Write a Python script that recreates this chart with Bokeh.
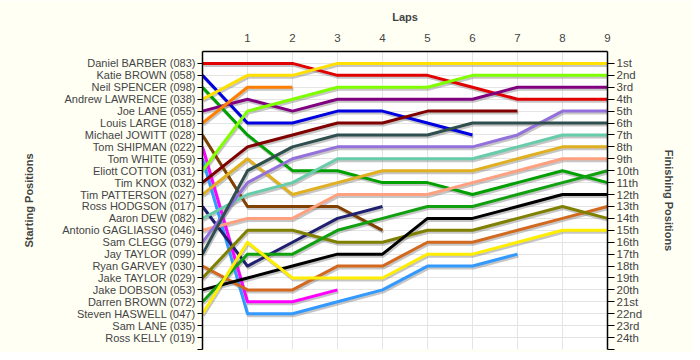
from bokeh.plotting import figure
from bokeh.models import LinearAxis, FixedTicker, Range1d
from bokeh.embed import file_html
from bokeh.resources import INLINE

# ---------------- data ----------------
laps = [0, 1, 2, 3, 4, 5, 6, 7, 8, 9]
lap_labels = ["", "1", "2", "3", "4", "5", "6", "7", "8", "9"]

drivers = [
    "Daniel BARBER (083)", "Katie BROWN (058)", "Neil SPENCER (098)",
    "Andrew LAWRENCE (038)", "Joe LANE (055)", "Louis LARGE (018)",
    "Michael JOWITT (028)", "Tom SHIPMAN (022)", "Tom WHITE (059)",
    "Eliott COTTON (031)", "Tim KNOX (032)", "Tim PATTERSON (027)",
    "Ross HODGSON (017)", "Aaron DEW (082)", "Antonio GAGLIASSO (046)",
    "Sam CLEGG (079)", "Jay TAYLOR (099)", "Ryan GARVEY (030)",
    "Jake TAYLOR (029)", "Jake DOBSON (053)", "Darren BROWN (072)",
    "Steven HASWELL (047)", "Sam LANE (035)", "Ross KELLY (019)",
]

finish_labels = ["1st", "2nd", "3rd", "4th", "5th", "6th", "7th", "8th",
                 "9th", "10th", "11th", "12th", "13th", "14th", "15th",
                 "16th", "17th", "18th", "19th", "20th", "21st", "22nd",
                 "23rd", "24th"]

# position of each driver after each lap (index 0 = start)
pos_barber    = [1, 1, 1, 2, 2, 2, 3, 4, 4, 4]
pos_kbrown    = [2, 6, 6, 5, 5, 6, 7]
pos_spencer   = [3, 7, 10, 10, 11, 11, 12, 11, 10, 11]
pos_lawrence  = [4, 2, 2, 1, 1, 1, 1, 1, 1, 1]
pos_jlane     = [5, 4, 5, 4, 4, 4, 4, 3, 3, 3]
pos_large     = [6, 3, 3]
pos_jowitt    = [7, 13, 13, 13, 15]
pos_shipman   = [8, 21, 21, 20]
pos_white     = [9, 22, 22, 21, 20, 18, 18, 17]
pos_cotton    = [10, 5, 4, 3, 3, 3, 2, 2, 2, 2]
pos_knox      = [11, 8, 7, 6, 6, 5, 5, 5]
pos_patterson = [12, 9, 12, 11, 10, 10, 10, 9, 8, 8]
pos_hodgson   = [13, 18, 16, 14, 13]
pos_dew       = [14, 12, 11, 9, 9, 9, 9, 8, 7, 7]
pos_gagliasso = [15, 14, 14, 12, 12, 12, 11, 10, 9, 9]
pos_clegg     = [16, 11, 9, 8, 8, 8, 8, 7, 5, 5]
pos_jaytaylor = [17, 10, 8, 7, 7, 7, 6, 6, 6, 6]
pos_garvey    = [18, 20, 20, 18, 18, 16, 16, 15, 14, 13]
pos_jaketaylor= [19, 15, 15, 16, 16, 15, 15, 14, 13, 14]
pos_dobson    = [20, 19, 18, 17, 17, 14, 14, 13, 12, 12]
pos_dbrown    = [21, 17, 17, 15, 14, 13, 13, 12, 11, 10]
pos_haswell   = [22, 16, 19, 19, 19, 17, 17, 16, 15, 15]
pos_slane     = []
pos_kelly     = []

positions = [pos_barber, pos_kbrown, pos_spencer, pos_lawrence, pos_jlane,
             pos_large, pos_jowitt, pos_shipman, pos_white, pos_cotton,
             pos_knox, pos_patterson, pos_hodgson, pos_dew, pos_gagliasso,
             pos_clegg, pos_jaytaylor, pos_garvey, pos_jaketaylor, pos_dobson,
             pos_dbrown, pos_haswell, pos_slane, pos_kelly]

colors = ["#e00000", "#0000e0", "#00a000", "#ffe000", "#800080", "#ff8000",
          "#804000", "#ff00ff", "#3399ff", "#80ff00", "#800000", "#e0b020",
          "#202070", "#66ccaa", "#ffa080", "#9370db", "#2f4f4f", "#d2691e",
          "#808000", "#000000", "#10a010", "#ffee00", "#888888", "#888888"]

# ---------------- figure ----------------
FONT = "Liberation Sans"

p = figure(width=692, height=352,
           x_range=Range1d(0, 9), y_range=Range1d(25, 0),
           x_axis_location="above", y_axis_location="left",
           output_backend="svg", toolbar_location=None,
           min_border_left=202, min_border_right=85,
           min_border_top=51, min_border_bottom=3)

p.border_fill_color = "#fffff4"
p.background_fill_color = "#ffffff"
p.outline_line_color = None

# shadows (offset a couple of pixels down/right)
dx = 1.0 / 45.0
dy = 2.0 / 11.92
for ys in positions:
    if len(ys) < 2:
        continue
    xs = laps[:len(ys)]
    p.line([x + dx for x in xs], [y + dy for y in ys],
           line_color="#808080", line_alpha=0.45, line_width=3,
           line_join="round")

for ys, c in zip(positions, colors):
    if len(ys) < 2:
        continue
    xs = laps[:len(ys)]
    p.line(xs, ys, line_color=c, line_width=3, line_join="round")

# top axis (laps)
xa = p.xaxis[0]
xa.ticker = FixedTicker(ticks=laps)
xa.major_label_overrides = {i: lbl for i, lbl in zip(laps, lap_labels)}
xa.axis_label = "Laps"
xa.axis_label_text_font = FONT
xa.axis_label_text_font_style = "bold"
xa.axis_label_text_font_size = "11px"
xa.axis_label_standoff = 8
xa.major_label_text_font = FONT
xa.major_label_text_font_size = "11.5px"
xa.major_label_standoff = 4
xa.major_tick_line_color = None
xa.minor_tick_line_color = None
xa.axis_line_color = "black"
xa.axis_line_width = 1.5

# left axis (starting positions)
ticks_y = list(range(1, 26))
ya = p.yaxis[0]
ya.ticker = FixedTicker(ticks=ticks_y)
left_over = {i + 1: n for i, n in enumerate(drivers)}
left_over[25] = ""
ya.major_label_overrides = left_over
ya.axis_label = "Starting Positions"
ya.axis_label_text_font = FONT
ya.axis_label_text_font_style = "bold"
ya.axis_label_text_font_size = "11px"
ya.axis_label_standoff = 24
ya.major_label_text_font = FONT
ya.major_label_text_font_size = "11px"
ya.major_label_standoff = 2
ya.major_tick_out = 5
ya.major_tick_in = 0
ya.minor_tick_line_color = None
ya.axis_line_color = "black"
ya.axis_line_width = 1.5

# right axis (finishing positions)
ra = LinearAxis(ticker=FixedTicker(ticks=ticks_y))
right_over = {i + 1: n for i, n in enumerate(finish_labels)}
right_over[25] = ""
ra.major_label_overrides = right_over
ra.axis_label = "Finishing Positions"
ra.axis_label_text_font = FONT
ra.axis_label_text_font_style = "bold"
ra.axis_label_text_font_size = "11px"
ra.axis_label_standoff = 18
ra.major_label_text_font = FONT
ra.major_label_text_font_size = "11.5px"
ra.major_label_standoff = 2
ra.major_tick_out = 7
ra.major_tick_in = 0
ra.minor_tick_line_color = None
ra.axis_line_color = "black"
ra.axis_line_width = 1.5
p.add_layout(ra, "right")

# grids
p.xgrid.ticker = FixedTicker(ticks=laps)
p.ygrid.ticker = FixedTicker(ticks=ticks_y)
p.xgrid.grid_line_color = "#e4e4e4"
p.ygrid.grid_line_color = "#e4e4e4"

open("out.html", "w").write(file_html(p, INLINE))
